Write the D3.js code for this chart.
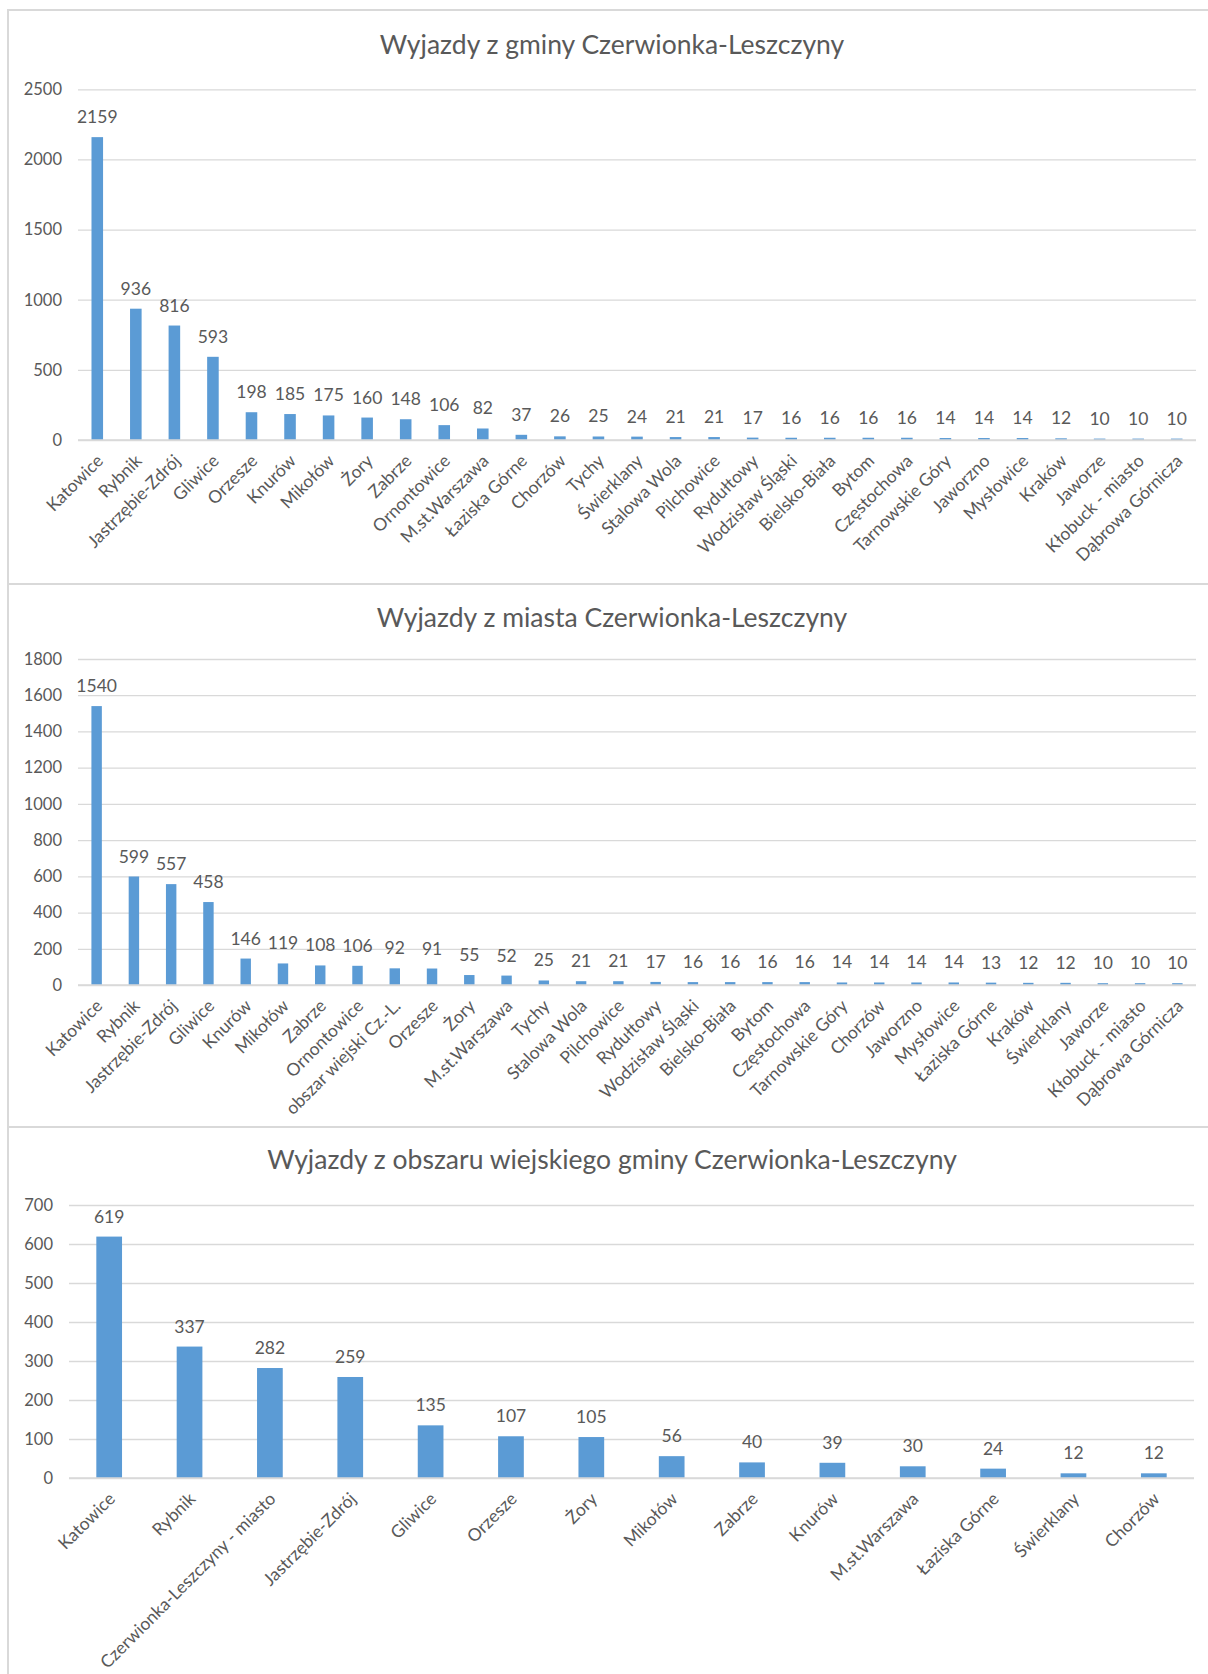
<!DOCTYPE html>
<html>
<head>
<meta charset="utf-8">
<script src="https://cdn.jsdelivr.net/npm/d3@7"></script>
<style>
  html, body { margin: 0; padding: 0; background: #fff; }
  svg { display: block; }
  text { font-family: Lato, "Open Sans", sans-serif; fill: #595959; }
</style>
</head>
<body>
<svg id="chart" width="1208" height="1674"></svg>
<script>
// ---- Data ----
const titles = [
  "Wyjazdy z gminy Czerwionka-Leszczyny",
  "Wyjazdy z miasta Czerwionka-Leszczyny",
  "Wyjazdy z obszaru wiejskiego gminy Czerwionka-Leszczyny"
];

const categoriesGmina = ["Katowice","Rybnik","Jastrzębie-Zdrój","Gliwice","Orzesze","Knurów","Mikołów","Żory","Zabrze","Ornontowice","M.st.Warszawa","Łaziska Górne","Chorzów","Tychy","Świerklany","Stalowa Wola","Pilchowice","Rydułtowy","Wodzisław Śląski","Bielsko-Biała","Bytom","Częstochowa","Tarnowskie Góry","Jaworzno","Mysłowice","Kraków","Jaworze","Kłobuck - miasto","Dąbrowa Górnicza"];
const valuesGmina = [2159,936,816,593,198,185,175,160,148,106,82,37,26,25,24,21,21,17,16,16,16,16,14,14,14,12,10,10,10];
const ticksGmina = [0,500,1000,1500,2000,2500];

const categoriesMiasto = ["Katowice","Rybnik","Jastrzębie-Zdrój","Gliwice","Knurów","Mikołów","Zabrze","Ornontowice","obszar wiejski Cz.-L.","Orzesze","Żory","M.st.Warszawa","Tychy","Stalowa Wola","Pilchowice","Rydułtowy","Wodzisław Śląski","Bielsko-Biała","Bytom","Częstochowa","Tarnowskie Góry","Chorzów","Jaworzno","Mysłowice","Łaziska Górne","Kraków","Świerklany","Jaworze","Kłobuck - miasto","Dąbrowa Górnicza"];
const valuesMiasto = [1540,599,557,458,146,119,108,106,92,91,55,52,25,21,21,17,16,16,16,16,14,14,14,14,13,12,12,10,10,10];
const ticksMiasto = [0,200,400,600,800,1000,1200,1400,1600,1800];

const categoriesWies = ["Katowice","Rybnik","Czerwionka-Leszczyny - miasto","Jastrzębie-Zdrój","Gliwice","Orzesze","Żory","Mikołów","Zabrze","Knurów","M.st.Warszawa","Łaziska Górne","Świerklany","Chorzów"];
const valuesWies = [619,337,282,259,135,107,105,56,40,39,30,24,12,12];
const ticksWies = [0,100,200,300,400,500,600,700];

// ---- Layout ----
const svg = d3.select("#chart");
const BAR = "#5b9bd5", GRID = "#d9d9d9", BORDER = "#d9d9d9";

const panels = [
  {title: titles[0], cats: categoriesGmina, vals: valuesGmina, ticks: ticksGmina,
   top: 10, bottom: 584, titleY: 54, x0: 78, x1: 1196, yTop: 89.3, yZero: 440, barFrac: 0.30},
  {title: titles[1], cats: categoriesMiasto, vals: valuesMiasto, ticks: ticksMiasto,
   top: 584, bottom: 1127, titleY: 627, x0: 78, x1: 1196, yTop: 659, yZero: 985, barFrac: 0.28},
  {title: titles[2], cats: categoriesWies, vals: valuesWies, ticks: ticksWies,
   top: 1127, bottom: 1690, titleY: 1169, x0: 69, x1: 1194, yTop: 1205, yZero: 1478, barFrac: 0.32}
];

panels.forEach(p => {
  const g = svg.append("g");
  g.append("rect")
    .attr("x", 8).attr("y", p.top)
    .attr("width", 1220).attr("height", p.bottom - p.top)
    .attr("fill", "#fff").attr("stroke", BORDER).attr("stroke-width", 2);

  g.append("text")
    .attr("x", 612).attr("y", p.titleY)
    .attr("text-anchor", "middle")
    .style("font-size", "26.5px")
    .text(p.title);

  const maxT = p.ticks[p.ticks.length - 1];
  const y = d3.scaleLinear().domain([0, maxT]).range([p.yZero, p.yTop]);
  const x = d3.scaleBand().domain(p.cats).range([p.x0, p.x1])
    .paddingInner(1 - p.barFrac).paddingOuter((1 - p.barFrac) / 2);

  // gridlines + y tick labels via axis
  const yAxis = d3.axisLeft(y).tickValues(p.ticks).tickSize(-(p.x1 - p.x0)).tickPadding(16).tickFormat(d3.format("d"));
  const ya = g.append("g").attr("transform", `translate(${p.x0},0)`).call(yAxis);
  ya.select(".domain").remove();
  ya.selectAll(".tick line").attr("stroke", GRID).attr("stroke-width", 1.3);
  ya.selectAll(".tick text").style("font-size", "16.5px").attr("fill", "#595959")
    .style("font-family", "Lato, 'Open Sans', sans-serif");

  // bars
  g.selectAll("rect.bar").data(p.vals).enter().append("rect")
    .attr("class", "bar")
    .attr("x", (d, i) => x(p.cats[i]))
    .attr("width", x.bandwidth())
    .attr("y", d => y(d))
    .attr("height", d => p.yZero - y(d))
    .attr("fill", BAR);

  // value labels
  g.selectAll("text.val").data(p.vals).enter().append("text")
    .attr("class", "val")
    .attr("x", (d, i) => x(p.cats[i]) + x.bandwidth() / 2)
    .attr("y", d => y(d) - 14)
    .attr("text-anchor", "middle")
    .style("font-size", "17.5px")
    .text(d => d);

  // category axis
  const xAxis = d3.axisBottom(x).tickSize(0).tickPadding(0);
  const xa = g.append("g").attr("transform", `translate(0,${p.yZero})`).call(xAxis);
  xa.select(".domain").attr("stroke", GRID).attr("stroke-width", 1.3)
    .attr("d", `M${p.x0},0H${p.x1}`);
  xa.selectAll(".tick text")
    .attr("text-anchor", "end")
    .attr("x", 0).attr("y", 0).attr("dy", 0)
    .attr("transform", "translate(7,22) rotate(-45)")
    .style("font-size", "17.5px")
    .attr("fill", "#595959")
    .style("font-family", "Lato, 'Open Sans', sans-serif");
});
</script>
</body>
</html>
